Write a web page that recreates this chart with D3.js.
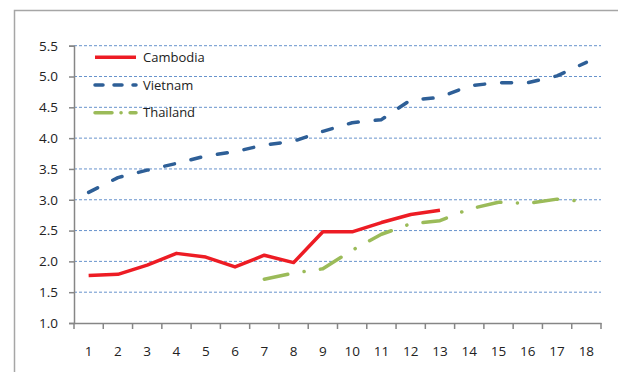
<!DOCTYPE html>
<html><head><meta charset="utf-8">
<script src="https://cdn.jsdelivr.net/npm/d3@7/dist/d3.min.js"></script>
<style>
html,body{margin:0;padding:0;background:#fff;}
svg{display:block;}
text{font-family:"Open Sans","Liberation Sans",Arial,sans-serif;}
</style></head>
<body>
<svg id="c" width="618" height="372"></svg>
<script>
const categories = ["1","2","3","4","5","6","7","8","9","10","11","12","13","14","15","16","17","18"];
const cambodia = [1.77,1.79,1.94,2.13,2.07,1.91,2.10,1.98,2.48,2.48,2.63,2.76,2.83,null,null,null,null,null];
const vietnam  = [3.12,3.36,3.48,3.59,3.71,3.78,3.89,3.95,4.11,4.25,4.30,4.62,4.66,4.85,4.90,4.90,5.01,5.23];
const thailand = [null,null,null,null,null,null,1.71,1.81,1.88,2.18,2.44,2.61,2.66,2.85,2.96,2.94,3.01,2.97];
const yTicks = [1.0,1.5,2.0,2.5,3.0,3.5,4.0,4.5,5.0,5.5];
const seriesNames = ["Cambodia","Vietnam","Thailand"];

const svg = d3.select("#c");
const L = 74, R = 601, T = 45.7, B = 323;

// frame
svg.append("path").attr("d", "M14.5,372 V10.5 H618")
  .attr("fill","none").attr("stroke","#a6a6a6").attr("stroke-width",1.5);

const x = d3.scaleBand().domain(categories).range([L,R]).padding(0);
const xb = d3.scaleLinear().domain([0,categories.length]).range([L,R]);
const y = d3.scaleLinear().domain([1.0,5.5]).range([B,T]);

// gridlines
svg.append("g").selectAll("line").data(yTicks.filter(d=>d>1.0)).join("line")
  .attr("x1",L).attr("x2",R).attr("y1",d=>y(d)).attr("y2",d=>y(d))
  .attr("stroke","#6893cc").attr("stroke-width",1).attr("stroke-dasharray","3,2");

// y axis
const ya = svg.append("g").attr("transform",`translate(${L},0)`)
  .call(d3.axisLeft(y).tickValues(yTicks).tickFormat(d3.format(".1f")).tickSize(5).tickPadding(11));
ya.select(".domain").attr("stroke","#868686").attr("stroke-width",1.5);
ya.selectAll(".tick line").attr("stroke","#868686").attr("stroke-width",1.5);
ya.selectAll("text").attr("font-size",13.5).attr("fill","#222").attr("font-family",null);

// x axis
const xa = svg.append("g").attr("transform",`translate(0,${B})`)
  .call(d3.axisBottom(x).tickSize(0).tickPadding(23));
xa.select(".domain").attr("stroke","#868686").attr("stroke-width",1.5);
xa.selectAll("text").attr("font-size",13.5).attr("fill","#222").attr("font-family",null);
svg.append("g").selectAll("line").data(d3.range(categories.length+1)).join("line")
  .attr("x1",d=>xb(d)).attr("x2",d=>xb(d)).attr("y1",B).attr("y2",B+6)
  .attr("stroke","#868686").attr("stroke-width",1.5);

const cx = d => x(d) + x.bandwidth()/2;
const line = d3.line().defined(d=>d.v!=null).x(d=>cx(d.c)).y(d=>y(d.v));
const mk = arr => categories.map((c,i)=>({c, v:arr[i]}));

const styles = [
  {data:cambodia, color:"#ed1c24", dash:null, cap:"butt"},
  {data:vietnam,  color:"#2e5f97", dash:"10,17", cap:"round"},
  {data:thailand, color:"#9bbb59", dash:"24,16.5,0.1,16.4", cap:"round"}
];

styles.forEach(s=>{
  svg.append("path").datum(mk(s.data)).attr("d",line)
    .attr("fill","none").attr("stroke",s.color).attr("stroke-width",3.5)
    .attr("stroke-linejoin","round").attr("stroke-linecap",s.cap)
    .attr("stroke-dasharray",s.dash);
});

// legend
const lg = svg.append("g");
const legY = [57.3, 85, 112.7];
styles.forEach((s,i)=>{
  lg.append("line").attr("x1",95).attr("x2",136).attr("y1",legY[i]).attr("y2",legY[i])
    .attr("stroke",s.color).attr("stroke-width",3.5).attr("stroke-linecap",s.cap)
    .attr("stroke-dasharray", i===2 ? "17,9,0.1,9" : (i===1 ? "8,11" : null));
  lg.append("text").attr("x",143).attr("y",legY[i]).attr("dy","0.35em")
    .attr("font-size",13).attr("fill","#222").text(seriesNames[i]);
});
</script>
</body></html>
